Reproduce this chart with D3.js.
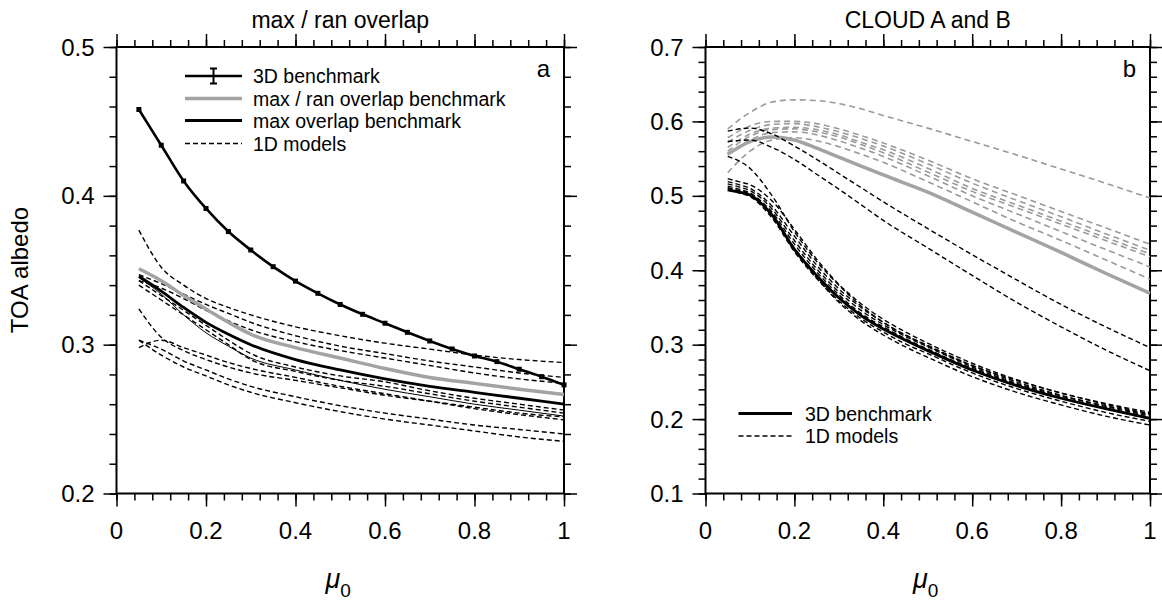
<!DOCTYPE html>
<html><head><meta charset="utf-8">
<script src="https://cdn.jsdelivr.net/npm/d3@7/dist/d3.min.js"></script>
<style>
body{margin:0;background:#fff;}
svg{display:block;font-family:"Liberation Sans",Arial,Helvetica,sans-serif;}
</style></head>
<body><svg id="c" width="1162" height="601"></svg>
<script>
// ---------------- DATA ----------------
// Panel a: max / ran overlap
const muBenchA = [0.05,0.1,0.15,0.2,0.25,0.3,0.35,0.4,0.45,0.5,0.55,0.6,0.65,0.7,0.75,0.8,0.85,0.9,0.95,1.0];
const bench3DA = [0.458,0.434,0.410,0.3915,0.376,0.3636,0.3524,0.3427,0.3345,0.327,0.3204,0.3144,0.3083,0.3025,0.2971,0.2924,0.2886,0.2835,0.2785,0.273];
const muGrid = [0.05,0.1,0.15,0.2,0.25,0.3,0.4,0.5,0.6,0.7,0.8,0.9,1.0];
const maxRanBenchA = [0.351,0.343,0.333,0.324,0.315,0.307,0.298,0.291,0.284,0.278,0.274,0.270,0.2665];
const maxBenchA    = [0.346,0.336,0.325,0.315,0.307,0.300,0.290,0.283,0.277,0.272,0.268,0.264,0.260];
const modelA1 = [0.377,0.352,0.340,0.331,0.325,0.320,0.312,0.306,0.301,0.297,0.293,0.290,0.288];
const modelA2 = [0.347,0.341,0.334,0.327,0.321,0.315,0.306,0.299,0.294,0.289,0.285,0.281,0.278];
const modelA3 = [0.343,0.338,0.331,0.323,0.316,0.310,0.302,0.296,0.291,0.286,0.281,0.277,0.274];
const modelA4 = [0.343,0.333,0.323,0.313,0.303,0.294,0.285,0.279,0.275,0.269,0.264,0.260,0.256];
const modelA5 = [0.340,0.330,0.320,0.310,0.300,0.290,0.282,0.276,0.272,0.267,0.262,0.258,0.254];
const modelA6 = [0.324,0.305,0.296,0.290,0.285,0.281,0.276,0.271,0.266,0.262,0.258,0.254,0.2515];
const modelA7 = [0.298,0.303,0.298,0.293,0.288,0.284,0.278,0.272,0.267,0.262,0.257,0.253,0.2495];
const modelA8 = [0.303,0.297,0.289,0.283,0.277,0.272,0.265,0.259,0.254,0.250,0.246,0.243,0.240];
const modelA9 = [0.303,0.293,0.285,0.279,0.273,0.268,0.261,0.255,0.250,0.246,0.242,0.238,0.235];
const modelAthin = [0.345,0.334,0.320,0.308,0.299,0.291,0.283,0.276,0.270,0.265,0.260,0.256,0.252];

// Panel b: CLOUD A and B
const muBenchB = [0.05,0.075,0.1,0.125,0.15,0.2,0.25,0.3,0.35,0.4,0.45,0.5,0.6,0.7,0.8,0.9,1.0];
const bench3DCloudA = [0.508,0.505,0.501,0.490,0.474,0.428,0.393,0.363,0.339,0.321,0.306,0.292,0.266,0.245,0.228,0.214,0.201];
const modelCA1 = [0.523,0.519,0.515,0.506,0.493,0.455,0.415,0.381,0.355,0.334,0.317,0.302,0.275,0.253,0.235,0.221,0.209];
const modelCA2 = [0.519,0.515,0.510,0.500,0.486,0.446,0.407,0.375,0.350,0.330,0.313,0.299,0.272,0.250,0.232,0.218,0.206];
const modelCA3 = [0.516,0.512,0.507,0.497,0.482,0.440,0.402,0.371,0.346,0.327,0.311,0.297,0.270,0.248,0.231,0.217,0.204];
const modelCA4 = [0.513,0.509,0.504,0.493,0.478,0.435,0.398,0.367,0.342,0.324,0.308,0.294,0.268,0.247,0.229,0.215,0.202];
const modelCA5 = [0.510,0.507,0.502,0.490,0.474,0.430,0.394,0.364,0.340,0.322,0.306,0.293,0.266,0.245,0.228,0.214,0.200];
const modelCA6 = [0.508,0.504,0.499,0.487,0.470,0.425,0.389,0.359,0.335,0.317,0.301,0.288,0.262,0.241,0.224,0.209,0.197];
const modelCA7 = [0.511,0.507,0.502,0.490,0.473,0.428,0.390,0.357,0.332,0.313,0.297,0.283,0.257,0.236,0.219,0.204,0.192];
const muGridB = [0.05,0.1,0.15,0.2,0.25,0.3,0.35,0.4,0.5,0.6,0.7,0.8,0.9,1.0];
const modelCA8 = [0.587,0.591,0.583,0.567,0.549,0.530,0.511,0.492,0.456,0.421,0.387,0.354,0.324,0.296];
const modelCA9 = [0.573,0.575,0.565,0.549,0.529,0.509,0.488,0.467,0.430,0.393,0.357,0.324,0.293,0.265];
const modelCA10 = [0.553,0.537,0.500,0.452,0.412,0.380,0.352,0.330,0.298,0.272,0.252,0.235,0.220,0.207];
const bench3DCloudB = [0.556,0.573,0.579,0.575,0.564,0.552,0.540,0.528,0.505,0.478,0.451,0.424,0.396,0.369];
const modelCB1 = [0.590,0.612,0.626,0.629,0.628,0.624,0.617,0.608,0.591,0.573,0.555,0.536,0.517,0.497];
const modelCB2 = [0.578,0.594,0.600,0.600,0.597,0.590,0.581,0.571,0.548,0.523,0.501,0.479,0.457,0.435];
const modelCB3 = [0.572,0.588,0.596,0.597,0.593,0.586,0.577,0.567,0.543,0.517,0.494,0.472,0.449,0.427];
const modelCB4 = [0.565,0.583,0.591,0.592,0.589,0.582,0.572,0.562,0.537,0.510,0.488,0.466,0.444,0.422];
const modelCB5 = [0.560,0.580,0.589,0.590,0.586,0.579,0.569,0.558,0.532,0.506,0.484,0.462,0.440,0.418];
const modelCB6 = [0.555,0.575,0.585,0.586,0.582,0.574,0.564,0.553,0.527,0.500,0.476,0.452,0.428,0.4045];
const modelCB7 = [0.531,0.560,0.575,0.578,0.574,0.566,0.556,0.545,0.519,0.492,0.465,0.440,0.414,0.388];

const xTicks = [0,0.2,0.4,0.6,0.8,1];
const yTicksA = [0.2,0.3,0.4,0.5];
const yTicksB = [0.1,0.2,0.3,0.4,0.5,0.6,0.7];
const xTickLabels = ["0","0.2","0.4","0.6","0.8","1"];

// ---------------- DRAW ----------------
const svg = d3.select("#c");
const FONT = '"Liberation Sans",Arial,Helvetica,sans-serif';
const TOP = 47, BOT = 493.5;

function panel(cfg){
  const x = d3.scaleLinear().domain([0,1]).range([cfg.x0,cfg.x1]);
  const y = d3.scaleLinear().domain(cfg.yDom).range([BOT,TOP]);
  const g = svg.append("g");
  const minorX = d3.range(0,1.0001,0.04);
  const minorY = d3.range(cfg.yDom[0],cfg.yDom[1]+1e-9,0.02);
  const sets = [
    [()=>d3.axisBottom(x), `translate(0,${BOT})`, minorX, xTicks],
    [()=>d3.axisTop(x), `translate(0,${TOP})`, minorX, xTicks],
    [()=>d3.axisLeft(y), `translate(${cfg.x0},0)`, minorY, cfg.yTicks],
    [()=>d3.axisRight(y), `translate(${cfg.x1},0)`, minorY, cfg.yTicks]
  ];
  sets.forEach(([mk,tr,minor,major])=>{
    [[minor,7],[major,13]].forEach(([vals,len])=>{
      const ga = g.append("g").attr("transform",tr).call(mk().tickValues(vals).tickSize(len).tickFormat(""));
      ga.select(".domain").remove();
      ga.selectAll("line").attr("stroke","#000").attr("stroke-width",1.5);
    });
  });
  // frame
  g.append("rect").attr("x",cfg.x0).attr("y",TOP).attr("width",cfg.x1-cfg.x0).attr("height",BOT-TOP)
   .attr("fill","none").attr("stroke","#000").attr("stroke-width",2);
  // tick labels
  xTicks.forEach((v,i)=>{
    g.append("text").attr("x",x(v)).attr("y",539).attr("text-anchor","middle")
     .attr("font-size",24).attr("font-family",FONT).text(xTickLabels[i]);
  });
  cfg.yTicks.forEach(v=>{
    g.append("text").attr("x",cfg.x0-22).attr("y",y(v)).attr("dy","0.36em").attr("text-anchor","end")
     .attr("font-size",24).attr("font-family",FONT).text(d3.format(".1f")(v));
  });
  // title
  g.append("text").attr("x",(cfg.x0+cfg.x1)/2).attr("y",28).attr("text-anchor","middle")
   .attr("font-size",23).attr("font-family",FONT).text(cfg.title);
  // panel letter
  g.append("text").attr("x",cfg.x1-14).attr("y",77).attr("text-anchor","end")
   .attr("font-size",24).attr("font-family",FONT).text(cfg.letter);
  // x axis label mu0
  const t = g.append("text").attr("x",(cfg.x0+cfg.x1)/2-2).attr("y",588).attr("text-anchor","middle").attr("font-family",FONT);
  t.append("tspan").attr("font-size",27).attr("font-style","italic").text("μ");
  t.append("tspan").attr("font-size",19).attr("dy",9).text("0");
  const plot = g.append("g");
  return {x,y,g,plot};
}

const A = panel({x0:116.5,x1:564,yDom:[0.2,0.5],yTicks:yTicksA,title:"max / ran overlap",letter:"a"});
const B = panel({x0:705.5,x1:1150,yDom:[0.1,0.7],yTicks:yTicksB,title:"CLOUD A and B",letter:"b"});

// y label
svg.append("text").attr("transform","translate(28,270) rotate(-90)").attr("text-anchor","middle")
  .attr("font-size",24).attr("font-family",FONT).text("TOA albedo");

function drawLine(P, xs, ys, style){
  const line = d3.line().x((d,i)=>P.x(xs[i])).y(d=>P.y(d)).curve(d3.curveMonotoneX);
  P.plot.append("path").attr("d",line(ys)).attr("fill","none")
    .attr("stroke",style.color).attr("stroke-width",style.w)
    .attr("stroke-dasharray",style.dash||null).attr("stroke-linejoin","round");
}
const dashBlack = {color:"#000",w:1.4,dash:"5,3"};
const dashGray = {color:"#9a9a9a",w:1.6,dash:"6,4"};

// Panel a
[modelA1,modelA2,modelA3,modelA4,modelA5,modelA6,modelA7,modelA8,modelA9].forEach(m=>drawLine(A,muGrid,m,dashBlack));
drawLine(A,muGrid,modelAthin,{color:"#000",w:1});
drawLine(A,muGrid,maxRanBenchA,{color:"#a3a3a3",w:3.5});
drawLine(A,muGrid,maxBenchA,{color:"#000",w:2.8});
drawLine(A,muBenchA,bench3DA,{color:"#000",w:2.6});
bench3DA.forEach((v,i)=>{
  const cx=A.x(muBenchA[i]), cy=A.y(v);
  A.plot.append("rect").attr("x",cx-2.5).attr("y",cy-2.5).attr("width",5).attr("height",5).attr("fill","#000");
});

// Panel b
[modelCB1,modelCB2,modelCB3,modelCB4,modelCB5,modelCB6,modelCB7].forEach(m=>drawLine(B,muGridB,m,dashGray));
drawLine(B,muGridB,bench3DCloudB,{color:"#a3a3a3",w:3.5});
[modelCA8,modelCA9,modelCA10].forEach(m=>drawLine(B,muGridB,m,dashBlack));
[modelCA1,modelCA2,modelCA3,modelCA4,modelCA5,modelCA6,modelCA7].forEach(m=>drawLine(B,muBenchB,m,dashBlack));
drawLine(B,muBenchB,bench3DCloudA,{color:"#000",w:2.8});

// Legends
function legendRow(x1,x2,y,style,label,tx){
  svg.append("line").attr("x1",x1).attr("x2",x2).attr("y1",y).attr("y2",y)
    .attr("stroke",style.color).attr("stroke-width",style.w).attr("stroke-dasharray",style.dash||null);
  svg.append("text").attr("x",tx).attr("y",y+7).attr("font-size",19.5).attr("font-family",FONT).text(label);
}
legendRow(185,242,76,{color:"#000",w:2.6},"3D benchmark",253);
svg.append("line").attr("x1",213.5).attr("x2",213.5).attr("y1",68.5).attr("y2",83.5).attr("stroke","#000").attr("stroke-width",2);
svg.append("line").attr("x1",210).attr("x2",217).attr("y1",68.5).attr("y2",68.5).attr("stroke","#000").attr("stroke-width",2);
svg.append("line").attr("x1",210).attr("x2",217).attr("y1",83.5).attr("y2",83.5).attr("stroke","#000").attr("stroke-width",2);
legendRow(185,242,98.5,{color:"#a3a3a3",w:3.5},"max / ran overlap benchmark",253);
legendRow(185,242,120.5,{color:"#000",w:2.8},"max overlap benchmark",253);
legendRow(185,242,143.5,dashBlack,"1D models",253);

legendRow(738.5,792,413.5,{color:"#000",w:2.8},"3D benchmark",805);
legendRow(738.5,792,436,dashBlack,"1D models",805);
</script></body></html>
